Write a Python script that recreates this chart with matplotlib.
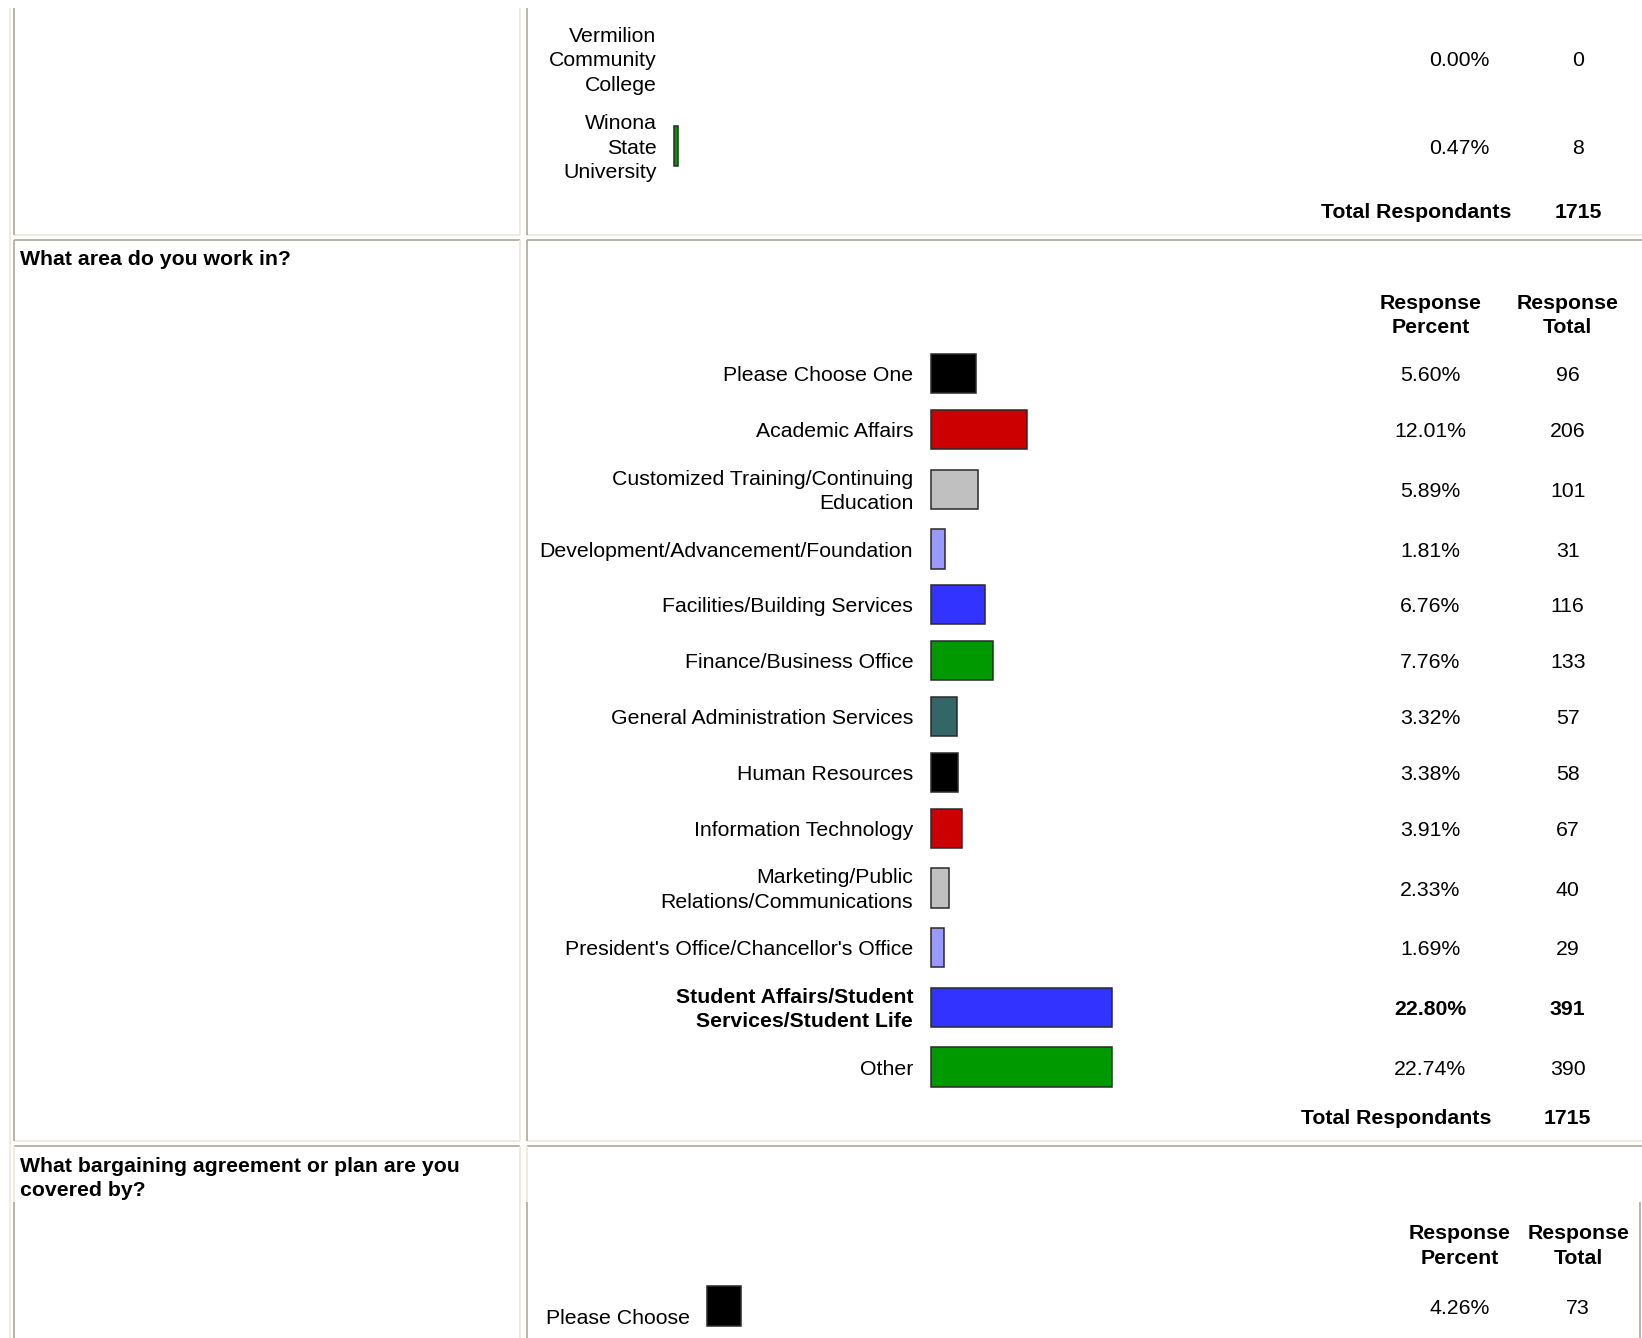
import numpy as np
import matplotlib
matplotlib.use("Agg")
import matplotlib.pyplot as plt

plt.rcParams['font.family'] = ['Liberation Sans', 'DejaVu Sans']

# ---- data ----
q1_labels = ["Vermilion\nCommunity\nCollege", "Winona\nState\nUniversity"]
q1_pct = [0.00, 0.47]
q1_total = [0, 8]
q1_colors = ["#3333FF", "#009900"]
q1_respondents = 1715

q2_question = "What area do you work in?"
q2_labels = ["Please Choose One", "Academic Affairs",
             "Customized Training/Continuing\nEducation",
             "Development/Advancement/Foundation", "Facilities/Building Services",
             "Finance/Business Office", "General Administration Services",
             "Human Resources", "Information Technology",
             "Marketing/Public\nRelations/Communications",
             "President's Office/Chancellor's Office",
             "Student Affairs/Student\nServices/Student Life", "Other"]
q2_pct = [5.60, 12.01, 5.89, 1.81, 6.76, 7.76, 3.32, 3.38, 3.91, 2.33, 1.69, 22.80, 22.74]
q2_total = [96, 206, 101, 31, 116, 133, 57, 58, 67, 40, 29, 391, 390]
q2_colors = ["#000000", "#CC0000", "#C0C0C0", "#9999FF", "#3333FF", "#009900", "#336666",
             "#000000", "#CC0000", "#C0C0C0", "#9999FF", "#3333FF", "#009900"]
q2_respondents = 1715

q3_question = "What bargaining agreement or plan are you\ncovered by?"
q3_labels = ["Please Choose"]
q3_pct = [4.26]
q3_total = [73]
q3_colors = ["#000000"]

header_pct = "Response\nPercent"
header_tot = "Response\nTotal"

# ---- page layout (units = reference pixels) ----
W, H = 1568, 1278
FS = 15.3
PX_PER_PCT = 7.6
BAR_H = 37.5
LS = 1.37
DY = 2  # small downward nudge for text
GRAY = "#ACA899"
LIGHT = "#ECE9D8"

fig = plt.figure(figsize=(16.42, 13.38), dpi=100)
ax = fig.add_axes([0, 0, 1, 1])
ax.set_xlim(0, W)
ax.set_ylim(H, 0)
ax.axis('off')


def row_centers(labels, first):
    hts = [max(53.4, 23 * (l.count('\n') + 1) + 14.5) for l in labels]
    ys = [first]
    for a, b in zip(hts[:-1], hts[1:]):
        ys.append(ys[-1] + (a + b) / 2)
    return ys


def bar_axes(x0, x1, y0, y1):
    a = fig.add_axes([x0 / W, 1 - y1 / H, (x1 - x0) / W, (y1 - y0) / H])
    a.set_xlim(0, (x1 - x0) / PX_PER_PCT)
    a.set_ylim(y1, y0)
    a.axis('off')
    return a


def txt(x, y, s, **kw):
    kw.setdefault('fontsize', FS)
    return ax.text(x, y + DY, s, **kw)


def draw_rows(labels, pct, total, colors, first_y, label_x, bar_x, pct_x, tot_x,
              bold_max=False, label_dy=0):
    ys = row_centers(labels, first_y)
    bax = bar_axes(bar_x - 5, bar_x + 230, ys[0] - 45, ys[-1] + 45)
    keep = [i for i, p in enumerate(pct) if p > 0]
    bax.barh([ys[i] for i in keep], [pct[i] for i in keep], height=BAR_H,
             left=5 / PX_PER_PCT, color=[colors[i] for i in keep],
             edgecolor="#2a2a2a", linewidth=1.1)
    for i, (lab, p, t) in enumerate(zip(labels, pct, total)):
        fw = 'bold' if bold_max and t == max(total) else 'normal'
        txt(label_x, ys[i] + label_dy, lab, ha='right', va='center',
            multialignment='right', fontweight=fw, linespacing=LS)
        txt(pct_x, ys[i], f"{p:.2f}%", ha='center', va='center', fontweight=fw)
        txt(tot_x, ys[i], str(t), ha='center', va='center', fontweight=fw)
    return ys


def header(y, pct_x, tot_x):
    for x, s in ((pct_x, header_pct), (tot_x, header_tot)):
        txt(x, y, s, ha='center', va='center', multialignment='center',
            fontweight='bold', linespacing=LS)


def respondents(y, right_x, val_x, n):
    txt(right_x, y, "Total Respondants", ha='right', va='center', fontweight='bold')
    txt(val_x, y, str(n), ha='center', va='center', fontweight='bold')


# ---- table borders ----
lw = 1.2
ax.vlines(9.5, 8, H, color=LIGHT, lw=lw)
sections = [(8, 224), (229.5, 1089.5), (1095, H + 5)]
for k, (top, bot) in enumerate(sections):
    if k > 0:
        ax.hlines(top, 13.5, 497, color=GRAY, lw=lw)
        ax.hlines(top, 503, W, color=GRAY, lw=lw)
    ax.hlines(bot, 13.5, 497, color=LIGHT, lw=lw)
    ax.hlines(bot, 503, W, color=LIGHT, lw=lw)
    ax.vlines(497, top, bot, color=LIGHT, lw=lw)
    if k == 2:
        for x in (13.5, 503):
            ax.vlines(x, top, 1148, color=LIGHT, lw=lw)
            ax.vlines(x, 1148, bot, color=GRAY, lw=lw)
        ax.vlines(1566, 1148, bot, color=GRAY, lw=lw)
    else:
        ax.vlines(13.5, top, bot, color=GRAY, lw=lw)
        ax.vlines(503, top, bot, color=GRAY, lw=lw)

# ---- section 1 (tail of previous question) ----
draw_rows(q1_labels, q1_pct, q1_total, q1_colors, 56, 627, 643.5, 1394, 1507)
respondents(201, 1443, 1507, q1_respondents)

# ---- section 2 ----
txt(19, 246, q2_question, ha='left', va='center', fontweight='bold')
header(299.5, 1366, 1497)
draw_rows(q2_labels, q2_pct, q2_total, q2_colors, 357, 872, 889, 1366, 1497, bold_max=True)
respondents(1066, 1424, 1497, q2_respondents)

# ---- section 3 ----
txt(19, 1123.5, q3_question, ha='left', va='center', fontweight='bold', linespacing=LS)
header(1188, 1394, 1507)
draw_rows(q3_labels, q3_pct, q3_total, q3_colors, 1247.5, 659, 675, 1394, 1507, label_dy=9.5)

fig.savefig("out.png", dpi=100, facecolor="white")
